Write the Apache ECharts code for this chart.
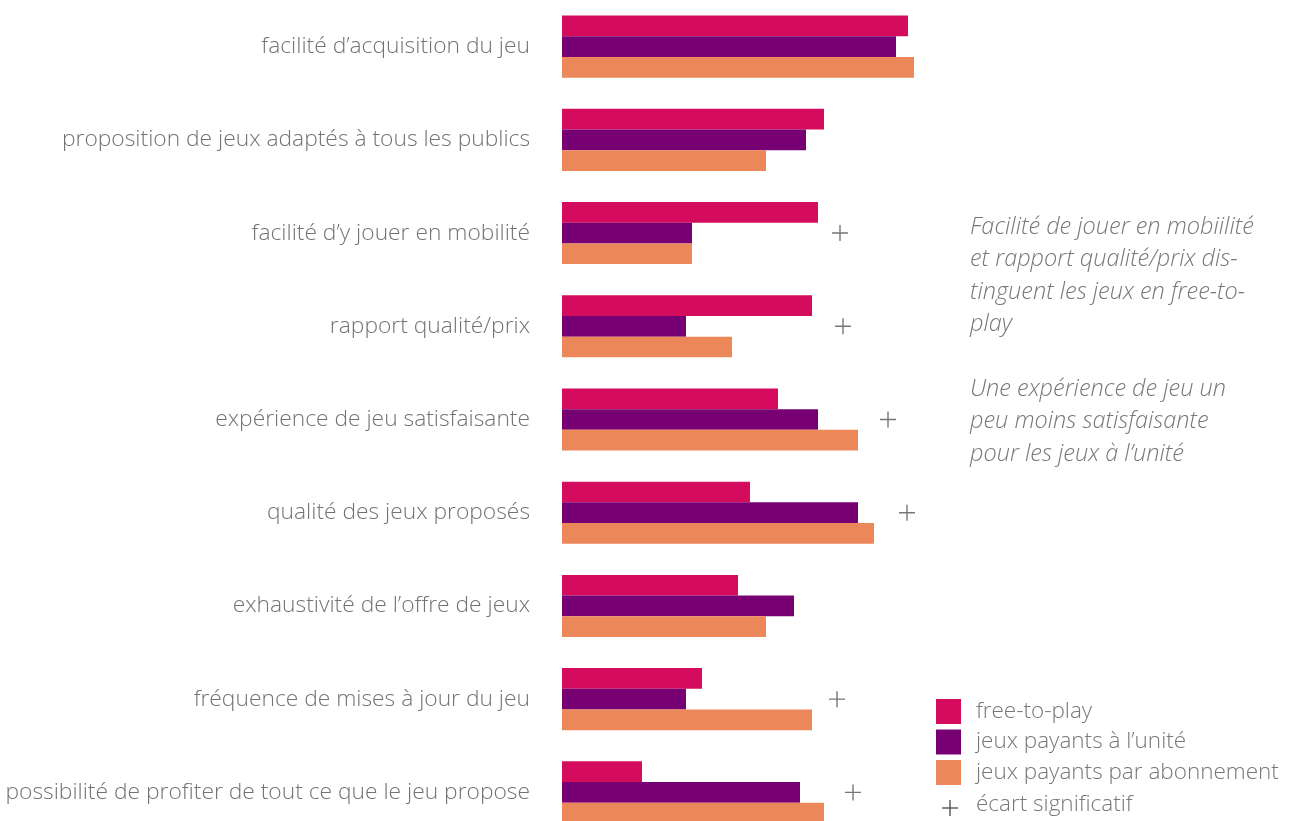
<!DOCTYPE html>
<html>
<head>
<meta charset="utf-8">
<script src="https://cdn.jsdelivr.net/npm/echarts@6/dist/echarts.min.js"></script>
<style>
  html, body { margin: 0; padding: 0; background: #fff; overflow: hidden; }
  #chart { width: 1299px; height: 839px; }
</style>
</head>
<body>
<div id="chart"></div>
<script>
  // critères évalués
  const categories = [
    'facilité d\u2019acquisition du jeu',
    'proposition de jeux adaptés à tous les publics',
    'facilité d\u2019y jouer en mobilité',
    'rapport qualité/prix',
    'expérience de jeu satisfaisante',
    'qualité des jeux proposés',
    'exhaustivité de l\u2019offre de jeux',
    'fréquence de mises à jour du jeu',
    'possibilité de profiter de tout ce que le jeu propose'
  ]
  const freeToPlay = [86.5, 65.5, 64, 62.5, 54, 47, 44, 35, 20]
  const payantsUnite = [83.5, 61, 32.5, 31, 64, 74, 58, 31, 59.5]
  const payantsAbonnement = [88, 51, 32.5, 42.5, 74, 78, 51, 62.5, 65.5]
  // "+" écart significatif (null = pas de marque)
  const ecartSignificatif = [null, null, 69.5, 70.25, 81.5, 86.25, null, 68.75, 72.75]

  const seriesNames = ['free-to-play', 'jeux payants à l\u2019unité', 'jeux payants par abonnement']
  const colors = ['#d50c5e', '#770072', '#eb8759']
  const plusPath = 'path://M0,7.3h16v1.4h-16z M7.3,0h1.4v16h-1.4z'
  const font = '"Open Sans", "Liberation Sans", sans-serif'

  const chart = echarts.init(document.getElementById('chart'))
  const barData = [freeToPlay, payantsUnite, payantsAbonnement]

  const option = {
    animation: false,
    backgroundColor: '#fff',
    grid: { left: 562, top: 0, width: 400, height: 839 },
    legend: {
      data: seriesNames,
      orient: 'vertical',
      left: 936,
      top: 699,
      padding: 0,
      itemWidth: 25,
      itemHeight: 25,
      itemGap: 5.5,
      icon: 'rect',
      selectedMode: false,
      textStyle: {
        fontFamily: font,
        fontWeight: 300,
        fontSize: 22.5,
        lineHeight: 25,
        color: '#777',
        padding: [0, 0, 0, 10]
      }
    },
    xAxis: {
      type: 'value',
      min: 0,
      max: 100,
      show: false
    },
    yAxis: {
      type: 'category',
      data: categories,
      inverse: true,
      axisLine: { show: false },
      axisTick: { show: false },
      axisLabel: {
        margin: 32,
        fontFamily: font,
        fontWeight: 300,
        fontSize: 22.8,
        color: '#737373'
      }
    },
    series: barData.map((d, i) => ({
      name: seriesNames[i],
      type: 'bar',
      data: d,
      barWidth: 20.7,
      barGap: '0%',
      itemStyle: { color: colors[i] }
    })).concat([{
      name: 'écart significatif',
      type: 'scatter',
      symbol: plusPath,
      symbolSize: 16,
      itemStyle: { color: '#555' },
      data: ecartSignificatif.map((v, i) => v === null ? null : [v, i]),
      z: 5
    }]),
    graphic: [
      {
        type: 'text',
        left: 970,
        top: 211,
        style: {
          text: 'Facilité de jouer en mobiilité\net rapport qualité/prix dis-\ntinguent les jeux en free-to-\nplay\n\nUne expérience de jeu un\npeu moins satisfaisante\npour les jeux à l\u2019unité',
          font: 'italic 300 23.5px ' + font,
          fill: '#777',
          lineHeight: 32.4
        }
      },
      {
        type: 'group',
        left: 942,
        top: 800,
        children: [
          { type: 'rect', shape: { x: 0, y: 7.3, width: 16, height: 1.4 }, style: { fill: '#555' } },
          { type: 'rect', shape: { x: 7.3, y: 0, width: 1.4, height: 16 }, style: { fill: '#555' } }
        ]
      },
      {
        type: 'text',
        left: 976,
        top: 793,
        style: {
          text: 'écart significatif',
          font: '300 22.5px ' + font,
          fill: '#777'
        }
      }
    ]
  }
  chart.setOption(option)
</script>
</body>
</html>
